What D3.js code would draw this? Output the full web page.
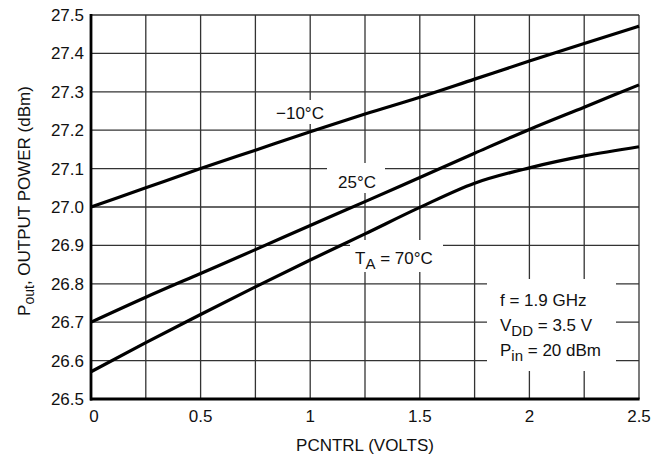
<!DOCTYPE html>
<html><head><meta charset="utf-8">
<script src="https://cdn.jsdelivr.net/npm/d3@7"></script>
<style>body{margin:0;background:#fff}svg text{font-family:"Liberation Sans",Arial,sans-serif;fill:#111}</style>
</head><body><svg id="c" width="661" height="463"></svg>
<script>
const xVals = [0,0.25,0.5,0.75,1,1.25,1.5,1.75,2,2.25,2.5];
const seriesM10 = [27.0,27.05,27.1,27.148,27.196,27.242,27.286,27.333,27.38,27.426,27.471];
const series25 = [26.70,26.765,26.827,26.889,26.952,27.014,27.077,27.14,27.202,27.26,27.318];
const series70 = [26.571,26.647,26.72,26.792,26.862,26.93,26.999,27.062,27.102,27.133,27.157];
const xTicks = [0,0.5,1,1.5,2,2.5];
const xTickLabels = ["0","0.5","1","1.5","2","2.5"];
const yTicks = [26.5,26.6,26.7,26.8,26.9,27.0,27.1,27.2,27.3,27.4,27.5];
const yTickLabels = ["26.5","26.6","26.7","26.8","26.9","27.0","27.1","27.2","27.3","27.4","27.5"];
const xGrid = [0.25,0.5,0.75,1,1.25,1.5,1.75,2,2.25,2.5];

const svg = d3.select("#c");
const L=91,R=639,T=15,B=399;
const x = d3.scaleLinear().domain([0,2.5]).range([L,R]);
const y = d3.scaleLinear().domain([26.5,27.5]).range([B,T]);
const FS=17;

// grid
svg.append("g").selectAll("line").data(yTicks.slice(1)).join("line")
  .attr("x1",L).attr("x2",R).attr("y1",d=>y(d)).attr("y2",d=>y(d))
  .attr("stroke","#333").attr("stroke-width",1.3);
svg.append("g").selectAll("line").data(xGrid).join("line")
  .attr("y1",T).attr("y2",B).attr("x1",d=>x(d)).attr("x2",d=>x(d))
  .attr("stroke","#333").attr("stroke-width",1.3);

// white masks behind labels
const masks=[[268,100,84,24],[327,163,58,30],[350,240,93,32],[487,279,129,92]];
svg.append("g").selectAll("rect").data(masks).join("rect")
  .attr("x",d=>d[0]).attr("y",d=>d[1]).attr("width",d=>d[2]).attr("height",d=>d[3]).attr("fill","#fff");

// axes
svg.append("line").attr("x1",L).attr("x2",L).attr("y1",T-1).attr("y2",B+1.5).attr("stroke","#000").attr("stroke-width",2.8);
svg.append("line").attr("x1",L-1).attr("x2",R+0.6).attr("y1",B).attr("y2",B).attr("stroke","#000").attr("stroke-width",2.8);

// tick labels
svg.append("g").selectAll("text").data(yTicks).join("text")
  .attr("x",84).attr("y",d=>y(d)+6).attr("text-anchor","end").attr("font-size",FS)
  .text((d,i)=>yTickLabels[i]);
svg.append("g").selectAll("text").data(xTicks).join("text")
  .attr("x",d=>x(d)+(d===0?3:0)).attr("y",422).attr("text-anchor","middle").attr("font-size",FS)
  .text((d,i)=>xTickLabels[i]);

// axis titles
svg.append("text").attr("x",(L+R)/2).attr("y",451).attr("text-anchor","middle").attr("font-size",FS).text("PCNTRL (VOLTS)");
const yt=svg.append("text").attr("transform","translate(30,201) rotate(-90)").attr("text-anchor","middle").attr("font-size",FS);
yt.append("tspan").text("P");
yt.append("tspan").attr("font-size",14).attr("dy",4).text("out");
yt.append("tspan").attr("dy",-4).text(", OUTPUT POWER (dBm)");

// curves
const line=d3.line().x((d,i)=>x(xVals[i])).y(d=>y(d)).curve(d3.curveMonotoneX);
[seriesM10,series25,series70].forEach(s=>{
  svg.append("path").attr("d",line(s)).attr("fill","none").attr("stroke","#000").attr("stroke-width",3.2);
});

// curve labels
svg.append("text").attr("x",300).attr("y",119).attr("text-anchor","middle").attr("font-size",FS).text("\u221210°C");
svg.append("text").attr("x",357).attr("y",188).attr("text-anchor","middle").attr("font-size",FS).text("25°C");
const ta=svg.append("text").attr("x",355).attr("y",264).attr("font-size",FS);
ta.append("tspan").text("T");
ta.append("tspan").attr("font-size",15).attr("dy",5).text("A");
ta.append("tspan").attr("dy",-5).text(" = 70°C");

// conditions
svg.append("text").attr("x",500).attr("y",306).attr("font-size",FS).text("f = 1.9 GHz");
const v=svg.append("text").attr("x",500).attr("y",331).attr("font-size",FS);
v.append("tspan").text("V");
v.append("tspan").attr("font-size",15).attr("dy",5).text("DD");
v.append("tspan").attr("dy",-5).text(" = 3.5 V");
const p=svg.append("text").attr("x",500).attr("y",356).attr("font-size",FS);
p.append("tspan").text("P");
p.append("tspan").attr("font-size",15).attr("dy",5).text("in");
p.append("tspan").attr("dy",-5).text(" = 20 dBm");
</script></body></html>
